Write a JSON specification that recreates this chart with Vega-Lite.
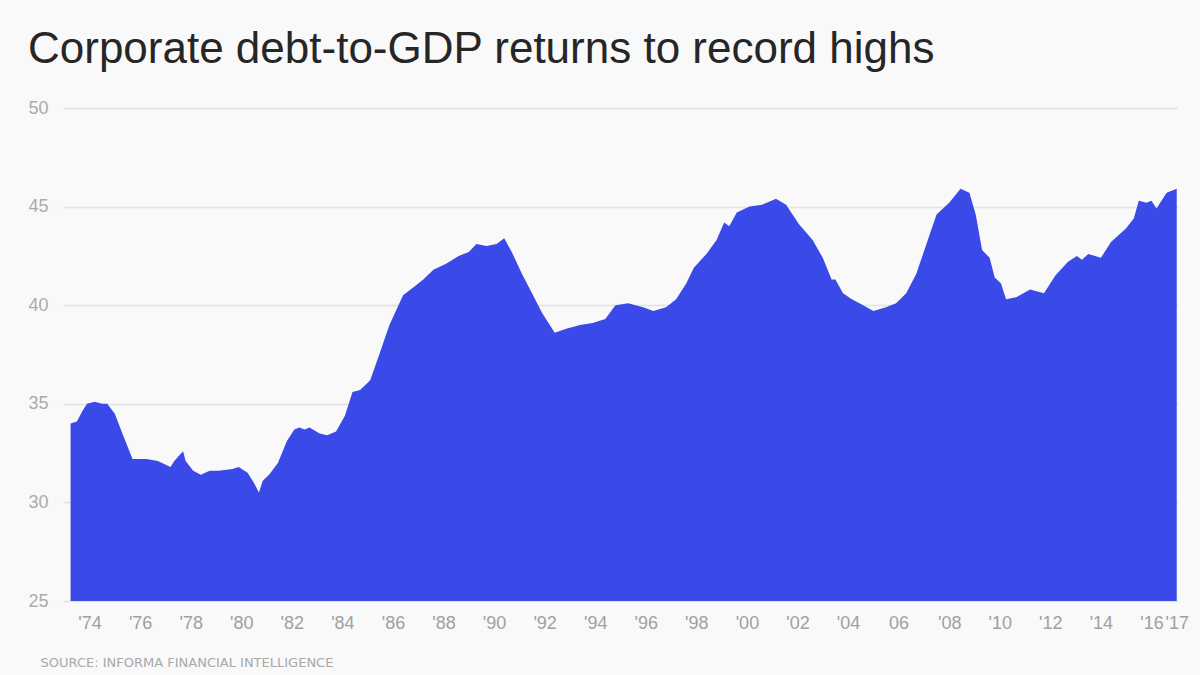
{
  "$schema": "https://vega.github.io/schema/vega-lite/v6.json",
  "width": 1115,
  "height": 493,
  "autosize": {"type": "none"},
  "padding": {"left": 63, "top": 108, "right": 22, "bottom": 74},
  "background": "#f9f9f9",
  "title": {
    "text": "Corporate debt-to-GDP returns to record highs",
    "anchor": "start",
    "font": "Liberation Sans",
    "fontSize": 44,
    "fontWeight": "normal",
    "color": "#262626",
    "offset": 27
  },
  "data": {
    "values": [
      {"year": 1973.25, "ratio": 34.0}, {"year": 1973.5, "ratio": 34.1}, {"year": 1973.7, "ratio": 34.6},
      {"year": 1973.9, "ratio": 35.0}, {"year": 1974.2, "ratio": 35.1}, {"year": 1974.5, "ratio": 35.0},
      {"year": 1974.7, "ratio": 35.0}, {"year": 1975.0, "ratio": 34.5}, {"year": 1975.3, "ratio": 33.5},
      {"year": 1975.7, "ratio": 32.2}, {"year": 1976.25, "ratio": 32.2}, {"year": 1976.7, "ratio": 32.1},
      {"year": 1977.2, "ratio": 31.8}, {"year": 1977.35, "ratio": 32.1}, {"year": 1977.7, "ratio": 32.6},
      {"year": 1977.8, "ratio": 32.1}, {"year": 1978.1, "ratio": 31.6}, {"year": 1978.4, "ratio": 31.4},
      {"year": 1978.75, "ratio": 31.6}, {"year": 1979.1, "ratio": 31.6}, {"year": 1979.65, "ratio": 31.7},
      {"year": 1979.9, "ratio": 31.8}, {"year": 1980.25, "ratio": 31.5}, {"year": 1980.5, "ratio": 31.0},
      {"year": 1980.7, "ratio": 30.5}, {"year": 1980.85, "ratio": 31.1}, {"year": 1981.1, "ratio": 31.4},
      {"year": 1981.45, "ratio": 32.0}, {"year": 1981.8, "ratio": 33.1}, {"year": 1982.1, "ratio": 33.7},
      {"year": 1982.3, "ratio": 33.8}, {"year": 1982.5, "ratio": 33.7}, {"year": 1982.7, "ratio": 33.8},
      {"year": 1983.1, "ratio": 33.5}, {"year": 1983.4, "ratio": 33.4}, {"year": 1983.75, "ratio": 33.6},
      {"year": 1984.1, "ratio": 34.4}, {"year": 1984.4, "ratio": 35.6}, {"year": 1984.7, "ratio": 35.7},
      {"year": 1985.1, "ratio": 36.2}, {"year": 1985.46, "ratio": 37.5}, {"year": 1985.86, "ratio": 39.0},
      {"year": 1986.4, "ratio": 40.5}, {"year": 1986.8, "ratio": 40.9}, {"year": 1987.2, "ratio": 41.3},
      {"year": 1987.6, "ratio": 41.8}, {"year": 1988.1, "ratio": 42.1}, {"year": 1988.6, "ratio": 42.5},
      {"year": 1989.0, "ratio": 42.7}, {"year": 1989.3, "ratio": 43.1}, {"year": 1989.7, "ratio": 43.0},
      {"year": 1990.1, "ratio": 43.1}, {"year": 1990.4, "ratio": 43.4}, {"year": 1990.7, "ratio": 42.7},
      {"year": 1991.1, "ratio": 41.6}, {"year": 1991.5, "ratio": 40.6}, {"year": 1991.9, "ratio": 39.6},
      {"year": 1992.4, "ratio": 38.6}, {"year": 1992.85, "ratio": 38.8}, {"year": 1993.4, "ratio": 39.0},
      {"year": 1993.9, "ratio": 39.1}, {"year": 1994.4, "ratio": 39.3}, {"year": 1994.8, "ratio": 40.0},
      {"year": 1995.3, "ratio": 40.1}, {"year": 1995.9, "ratio": 39.9}, {"year": 1996.3, "ratio": 39.7},
      {"year": 1996.8, "ratio": 39.9}, {"year": 1997.2, "ratio": 40.3}, {"year": 1997.6, "ratio": 41.1},
      {"year": 1997.9, "ratio": 41.9}, {"year": 1998.4, "ratio": 42.6}, {"year": 1998.8, "ratio": 43.3},
      {"year": 1999.1, "ratio": 44.2}, {"year": 1999.3, "ratio": 44.0}, {"year": 1999.6, "ratio": 44.7},
      {"year": 2000.1, "ratio": 45.0}, {"year": 2000.6, "ratio": 45.1}, {"year": 2001.15, "ratio": 45.4},
      {"year": 2001.55, "ratio": 45.1}, {"year": 2002.06, "ratio": 44.1}, {"year": 2002.6, "ratio": 43.3},
      {"year": 2003.0, "ratio": 42.4}, {"year": 2003.35, "ratio": 41.3}, {"year": 2003.5, "ratio": 41.3},
      {"year": 2003.8, "ratio": 40.6}, {"year": 2004.15, "ratio": 40.3}, {"year": 2004.6, "ratio": 40.0},
      {"year": 2005.0, "ratio": 39.7}, {"year": 2005.5, "ratio": 39.9}, {"year": 2005.9, "ratio": 40.1},
      {"year": 2006.3, "ratio": 40.6}, {"year": 2006.7, "ratio": 41.6}, {"year": 2007.1, "ratio": 43.1},
      {"year": 2007.5, "ratio": 44.6}, {"year": 2008.0, "ratio": 45.2}, {"year": 2008.45, "ratio": 45.9},
      {"year": 2008.8, "ratio": 45.7}, {"year": 2009.05, "ratio": 44.6}, {"year": 2009.3, "ratio": 42.8},
      {"year": 2009.6, "ratio": 42.4}, {"year": 2009.8, "ratio": 41.4}, {"year": 2010.05, "ratio": 41.1},
      {"year": 2010.25, "ratio": 40.3}, {"year": 2010.65, "ratio": 40.4}, {"year": 2011.2, "ratio": 40.8},
      {"year": 2011.75, "ratio": 40.6}, {"year": 2012.2, "ratio": 41.5}, {"year": 2012.7, "ratio": 42.2},
      {"year": 2013.05, "ratio": 42.5}, {"year": 2013.25, "ratio": 42.3}, {"year": 2013.5, "ratio": 42.6},
      {"year": 2014.0, "ratio": 42.4}, {"year": 2014.4, "ratio": 43.2}, {"year": 2015.0, "ratio": 43.9},
      {"year": 2015.3, "ratio": 44.4}, {"year": 2015.5, "ratio": 45.3}, {"year": 2015.8, "ratio": 45.2},
      {"year": 2016.0, "ratio": 45.3}, {"year": 2016.2, "ratio": 44.9}, {"year": 2016.6, "ratio": 45.7},
      {"year": 2017.0, "ratio": 45.9}
    ]
  },
  "mark": {"type": "area", "color": "#3a4ae8", "clip": true},
  "encoding": {
    "x": {
      "field": "year",
      "type": "quantitative",
      "scale": {"domain": [1972.95, 2017.05], "nice": false, "zero": false},
      "axis": {
        "values": [1974, 1976, 1978, 1980, 1982, 1984, 1986, 1988, 1990, 1992, 1994, 1996, 1998, 2000, 2002, 2004, 2006, 2008, 2010, 2012, 2014, 2016, 2017],
        "labelExpr": "datum.value == 2006 ? '06' : \"'\" + slice(toString(datum.value), 2)",
        "labelOverlap": false,
        "labelFlush": false,
        "labelPadding": 13,
        "labelFont": "Liberation Sans",
        "labelFontSize": 18,
        "labelColor": "#a0a0a0",
        "domain": false,
        "ticks": false,
        "grid": false,
        "title": "SOURCE: INFORMA FINANCIAL INTELLIGENCE",
        "titleFont": "DejaVu Sans",
        "titleFontSize": 13,
        "titleFontWeight": "normal",
        "titleColor": "#a8a8a8",
        "titleAnchor": "start",
        "titleAlign": "left",
        "titleBaseline": "middle",
        "titleX": -23,
        "titleY": 61
      }
    },
    "y": {
      "field": "ratio",
      "type": "quantitative",
      "scale": {"domain": [25, 50], "nice": false, "zero": false},
      "axis": {
        "values": [25, 30, 35, 40, 45, 50],
        "labelPadding": 15,
        "labelFont": "Liberation Sans",
        "labelFontSize": 18,
        "labelColor": "#ababab",
        "domain": false,
        "ticks": false,
        "gridColor": "#e2e2e2",
        "gridWidth": 1.5,
        "title": null
      }
    }
  },
  "config": {
    "view": {"stroke": null}
  }
}
